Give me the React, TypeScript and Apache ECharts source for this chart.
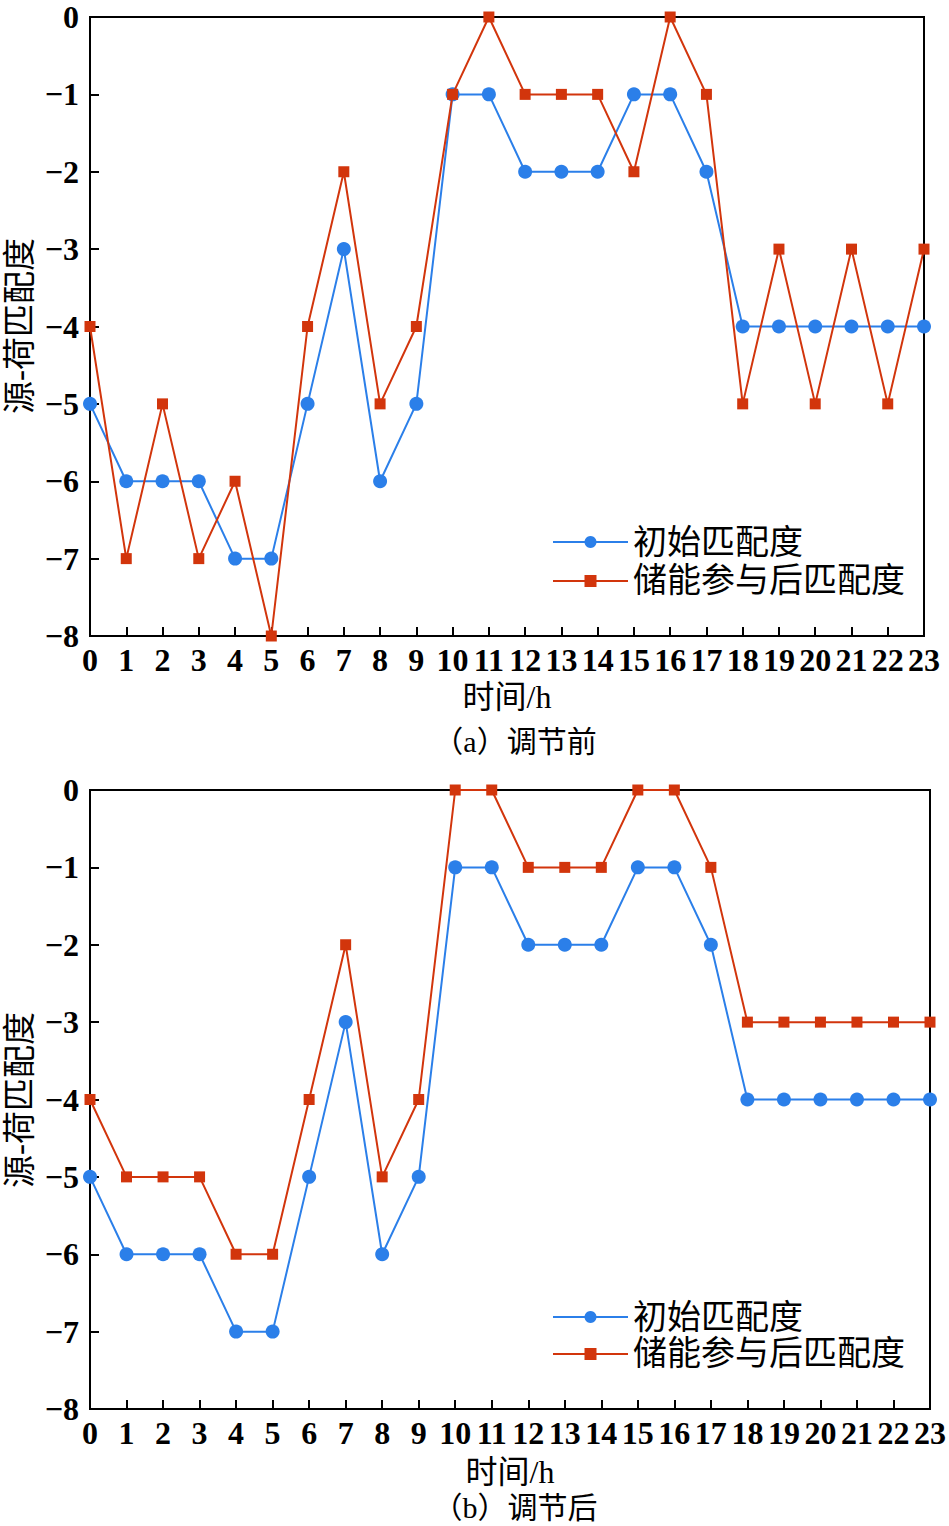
import React, { useEffect, useRef } from "react";
import * as echarts from "echarts";

const hours = Array.from({ length: 24 }, (_, i) => String(i));
const initialA = [-5, -6, -6, -6, -7, -7, -5, -3, -6, -5, -1, -1, -2, -2, -2, -1, -1, -2, -4, -4, -4, -4, -4, -4];
const storageA = [-4, -7, -5, -7, -6, -8, -4, -2, -5, -4, -1, 0, -1, -1, -1, -2, 0, -1, -5, -3, -5, -3, -5, -3];
const initialB = [-5, -6, -6, -6, -7, -7, -5, -3, -6, -5, -1, -1, -2, -2, -2, -1, -1, -2, -4, -4, -4, -4, -4, -4];
const storageB = [-4, -5, -5, -5, -6, -6, -4, -2, -5, -4, 0, 0, -1, -1, -1, 0, 0, -1, -3, -3, -3, -3, -3, -3];
const seriesNames = ["初始匹配度", "储能参与后匹配度"];
const yAxisTitle = "源-荷匹配度";
const xAxisTitle = "时间/h";
const captions = ["（a）调节前", "（b）调节后"];

const FONT = '"Liberation Serif", "Times New Roman", "Noto Sans CJK SC", serif';
const BLUE = "#2b7fe9";
const RED = "#d2350c";

export default function App() {
  const ref = useRef<HTMLDivElement>(null);
  useEffect(() => {
    if (!ref.current) return;
    const chart = echarts.init(ref.current, null, { renderer: "svg" });
    const grids = [
      { left: 90, top: 17, width: 834, height: 619 },
      { left: 90, top: 790, width: 841, height: 619 },
    ];
    const xAxes = grids.map((_, i) => ({
      type: "category",
      gridIndex: i,
      position: "bottom",
      data: hours,
      boundaryGap: false,
      axisLine: { show: true, onZero: false, lineStyle: { color: "#000", width: 2 } },
      axisTick: { show: true, inside: true, length: 9, lineStyle: { color: "#000", width: 2 }, alignWithLabel: true },
      axisLabel: { interval: 0, color: "#000", fontFamily: FONT, fontSize: 32, fontWeight: "bold", margin: 8 },
      splitLine: { show: false },
    }));
    const yAxes = grids.map((_, i) => ({
      type: "value",
      gridIndex: i,
      min: -8,
      max: 0,
      interval: 1,
      axisLine: { show: true, onZero: false, lineStyle: { color: "#000", width: 2 } },
      axisTick: { show: true, inside: true, length: 9, lineStyle: { color: "#000", width: 2 } },
      axisLabel: {
        color: "#000",
        fontFamily: FONT,
        fontSize: 32,
        fontWeight: "bold",
        margin: 11,
        formatter: (v: number) => (v < 0 ? "\u2212" + Math.abs(v) : String(v)),
      },
      splitLine: { show: false },
    }));
    const mk = (name: string, data: number[], idx: number, blue: boolean) => ({
      name,
      type: "line",
      xAxisIndex: idx,
      yAxisIndex: idx,
      data,
      symbol: blue ? "circle" : "rect",
      symbolSize: blue ? 14 : 11,
      lineStyle: { color: blue ? BLUE : RED, width: 2 },
      itemStyle: { color: blue ? BLUE : RED },
      clip: false,
      z: blue ? 2 : 3,
    });
    const legendCommon = {
      orient: "vertical",
      left: 552,
      padding: 0,
      itemWidth: 75,
      itemHeight: 15,
      textStyle: { fontFamily: FONT, fontSize: 34, color: "#000" },
      data: seriesNames,
    };
    chart.setOption({
      animation: false,
      backgroundColor: "#fff",
      grid: grids.map((g) => ({ ...g, show: true, borderColor: "#000", borderWidth: 2, containLabel: false })),
      xAxis: xAxes,
      yAxis: yAxes,
      legend: [
        { ...legendCommon, top: 525, itemGap: 5 },
        { ...legendCommon, top: 1300, itemGap: 3 },
      ],
      series: [
        mk(seriesNames[0], initialA, 0, true),
        mk(seriesNames[1], storageA, 0, false),
        mk(seriesNames[0], initialB, 1, true),
        mk(seriesNames[1], storageB, 1, false),
      ],
      graphic: [
        { type: "text", x: 20, y: 326, rotation: Math.PI / 2, style: { text: yAxisTitle, font: `33px ${FONT}`, fill: "#000", textAlign: "center", textVerticalAlign: "middle" } },
        { type: "text", x: 20, y: 1100, rotation: Math.PI / 2, style: { text: yAxisTitle, font: `33px ${FONT}`, fill: "#000", textAlign: "center", textVerticalAlign: "middle" } },
        { type: "text", x: 507, y: 697, style: { text: xAxisTitle, font: `32px ${FONT}`, fill: "#000", textAlign: "center", textVerticalAlign: "middle" } },
        { type: "text", x: 510, y: 1472, style: { text: xAxisTitle, font: `32px ${FONT}`, fill: "#000", textAlign: "center", textVerticalAlign: "middle" } },
        { type: "text", x: 515, y: 741, style: { text: captions[0], font: `30px ${FONT}`, fill: "#000", textAlign: "center", textVerticalAlign: "middle" } },
        { type: "text", x: 515, y: 1507, style: { text: captions[1], font: `30px ${FONT}`, fill: "#000", textAlign: "center", textVerticalAlign: "middle" } },
      ],
    });
    return () => chart.dispose();
  }, []);
  return <div ref={ref} style={{ position: "absolute", left: 0, top: 0, width: 949, height: 1526 }} />;
}
